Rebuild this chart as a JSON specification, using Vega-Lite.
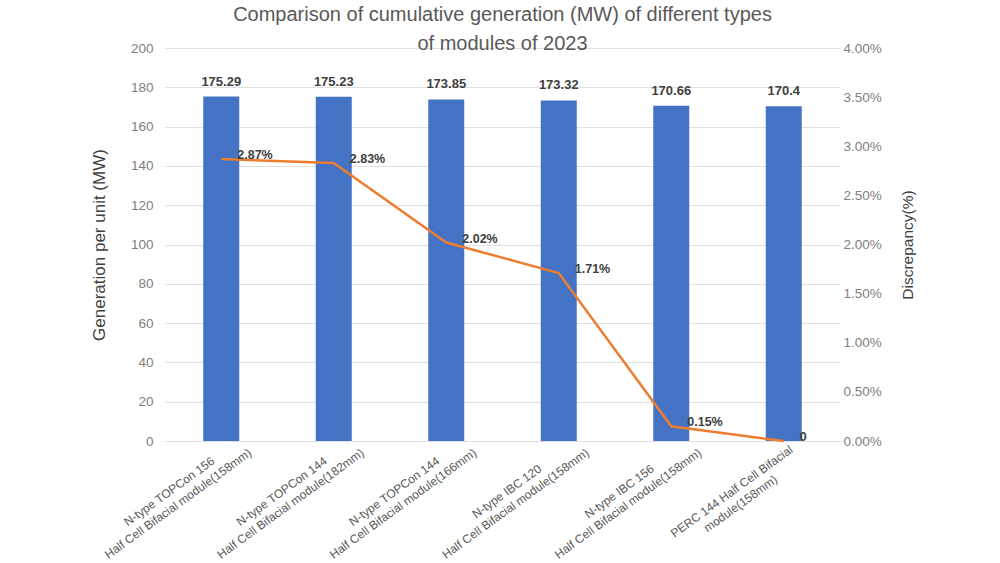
{
  "$schema": "https://vega.github.io/schema/vega-lite/v6.json",
  "autosize": {"type": "none"},
  "width": 675,
  "height": 393,
  "padding": {"left": 165, "top": 48, "right": 160, "bottom": 122},
  "background": "white",
  "config": {
    "view": {"stroke": null},
    "font": "Liberation Sans",
    "axis": {"labelFont": "Liberation Sans", "titleFont": "Liberation Sans"}
  },
  "title": {
    "text": ["Comparison of cumulative generation (MW) of different types", "of modules of 2023"],
    "font": "Liberation Sans",
    "fontSize": 20,
    "fontWeight": "normal",
    "color": "#595959",
    "lineHeight": 29,
    "baseline": "bottom",
    "frame": "group",
    "anchor": "middle",
    "offset": -33
  },
  "data": {
    "values": [
      {"module": "N-type TOPCon 156\nHalf Cell Bifacial module(158mm)", "gen": 175.29, "disc": 0.0287, "disc_label": "2.87%"},
      {"module": "N-type TOPCon 144\nHalf Cell Bifacial module(182mm)", "gen": 175.23, "disc": 0.0283, "disc_label": "2.83%"},
      {"module": "N-type TOPCon 144\nHalf Cell Bifacial module(166mm)", "gen": 173.85, "disc": 0.0202, "disc_label": "2.02%"},
      {"module": "N-type IBC 120\nHalf Cell Bifacial module(158mm)", "gen": 173.32, "disc": 0.0171, "disc_label": "1.71%"},
      {"module": "N-type IBC 156\nHalf Cell Bifacial module(158mm)", "gen": 170.66, "disc": 0.0015, "disc_label": "0.15%"},
      {"module": "PERC 144 Half Cell Bifacial\nmodule(158mm)", "gen": 170.4, "disc": 0.0, "disc_label": "0"}
    ]
  },
  "encoding": {
    "x": {
      "field": "module",
      "type": "nominal",
      "sort": null,
      "scale": {"paddingInner": 0.68, "paddingOuter": 0.34},
      "axis": {
        "title": null,
        "labelExpr": "split(datum.label, '\\n')",
        "labelAngle": -36,
        "labelAlign": "center",
        "labelBaseline": "middle",
        "labelFontSize": 12,
        "labelColor": "#595959",
        "labelLineHeight": 15,
        "labelOffset": -52,
        "labelPadding": 50,
        "labelLimit": 300,
        "ticks": false,
        "domain": false
      }
    }
  },
  "layer": [
    {
      "encoding": {
        "y": {
          "field": "gen",
          "type": "quantitative",
          "scale": {"domain": [0, 200]},
          "axis": {
            "title": "Generation per unit (MW)",
            "titleFontSize": 17,
            "titleFontWeight": "normal",
            "titleColor": "#404040",
            "titlePadding": 22,
            "values": [0, 20, 40, 60, 80, 100, 120, 140, 160, 180, 200],
            "labelFontSize": 13.5,
            "labelColor": "#808080",
            "labelPadding": 12,
            "labelOverlap": false,
            "ticks": false,
            "domain": false,
            "gridColor": "#e0e0e0",
            "gridWidth": 1
          }
        }
      },
      "layer": [
        {"mark": {"type": "bar", "color": "#4472C4"}},
        {
          "mark": {"type": "text", "baseline": "bottom", "dy": -8, "fontSize": 13, "fontWeight": "bold", "color": "#404040"},
          "encoding": {"text": {"field": "gen", "type": "quantitative"}}
        }
      ]
    },
    {
      "encoding": {
        "y": {
          "field": "disc",
          "type": "quantitative",
          "scale": {"domain": [0, 0.04]},
          "axis": {
            "orient": "right",
            "title": "Discrepancy(%)",
            "titleAngle": -90,
            "titleFontSize": 15.5,
            "titleFontWeight": "normal",
            "titleColor": "#404040",
            "titlePadding": 34,
            "format": ".2%",
            "values": [0, 0.005, 0.01, 0.015, 0.02, 0.025, 0.03, 0.035, 0.04],
            "labelFontSize": 13.5,
            "labelColor": "#808080",
            "labelPadding": 3,
            "labelOverlap": false,
            "ticks": false,
            "domain": false,
            "grid": false
          }
        }
      },
      "layer": [
        {"mark": {"type": "line", "color": "#ED7D31", "strokeWidth": 2.5}},
        {
          "mark": {"type": "text", "align": "left", "baseline": "middle", "dx": 16, "dy": -4, "fontSize": 12.5, "fontWeight": "bold", "color": "#404040"},
          "encoding": {"text": {"field": "disc_label", "type": "nominal"}}
        }
      ]
    }
  ],
  "resolve": {"scale": {"y": "independent"}}
}
